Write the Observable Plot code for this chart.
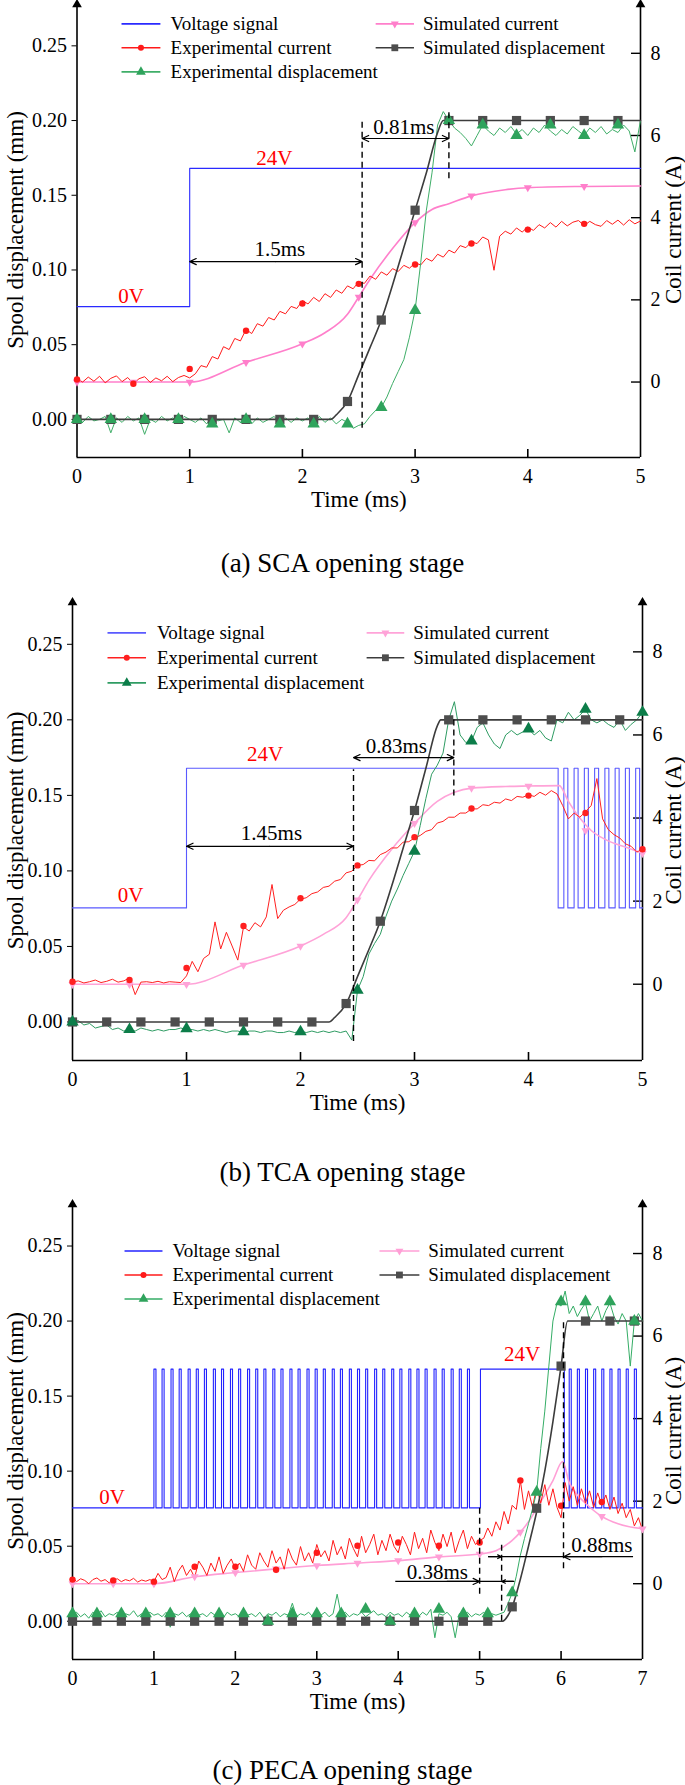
<!DOCTYPE html>
<html>
<head>
<meta charset="utf-8">
<script src="https://cdn.jsdelivr.net/npm/d3@7"></script>
<script src="https://cdn.jsdelivr.net/npm/@observablehq/plot@0.6"></script>
<style>
  body { margin: 0; background: #fff; font-family: "Liberation Serif", "Times New Roman", serif; }
  #page { position: relative; width: 685px; height: 1785px; overflow: hidden; }
  .fig { position: absolute; left: 0; }
  .cap { position: absolute; left: 0; width: 685px; text-align: center; font-size: 27px; line-height: 32px; height: 32px; color: #000; }
</style>
</head>
<body>
<div id="page">
  <div class="fig" id="figA" style="top:0px"></div>
  <div class="cap" style="top:547px">(a) SCA opening stage</div>
  <div class="fig" id="figB" style="top:585px"></div>
  <div class="cap" style="top:1156px">(b) TCA opening stage</div>
  <div class="fig" id="figC" style="top:1195px"></div>
  <div class="cap" style="top:1754px">(c) PECA opening stage</div>
</div>
<script>
// ---- (a) SCA ----------------------------------------------------------
// noisy traces sampled every 0.05 ms from t = 0
const aExpCur = [0.08,0.00,0.12,0.02,0.14,-0.02,0.09,0.15,0.01,0.11,-0.04,0.08,0.13,-0.01,0.10,0.03,0.14,0.01,0.11,0.16,0.10,
  0.20,0.40,0.36,0.62,0.56,0.86,0.79,1.06,1.00,1.28,1.18,1.42,1.36,1.57,1.51,1.72,1.66,1.84,1.79,1.98,
  1.90,2.06,1.96,2.15,2.06,2.24,2.16,2.34,2.27,2.44,2.40,2.58,2.50,2.68,2.60,2.76,2.69,2.84,2.77,2.90,
  2.85,3.01,2.94,3.11,3.04,3.21,3.14,3.32,3.27,3.41,3.37,3.53,3.46,2.72,3.55,3.67,3.60,3.75,3.65,3.77,
  3.69,3.83,3.75,3.88,3.77,3.91,3.80,3.89,3.93,3.81,3.91,3.83,3.79,3.93,3.84,3.94,3.82,3.95,3.85,3.92];
const aExpDisp = [0.001,-0.002,0.002,-0.001,0.000,0.002,-0.009,0.001,-0.002,0.002,-0.001,0.001,-0.010,0.000,-0.002,0.002,-0.001,0.001,-0.002,0.002,0.000,
  -0.002,0.001,-0.003,0.002,-0.001,0.000,-0.009,0.001,-0.002,0.002,-0.003,0.001,-0.002,0.000,0.002,-0.003,0.001,-0.002,0.001,-0.001,
  0.001,-0.003,0.002,-0.002,0.001,-0.003,0.000,-0.002,-0.006,-0.004,-0.003,0.002,0.006,0.008,0.015,0.024,0.032,0.040,0.055,0.073,
  0.105,0.140,0.165,0.197,0.206,0.200,0.195,0.192,0.188,0.183,0.190,0.197,0.193,0.190,0.195,0.192,0.196,0.191,0.194,0.190,
  0.195,0.192,0.197,0.193,0.190,0.194,0.191,0.196,0.193,0.190,0.195,0.192,0.196,0.191,0.194,0.192,0.197,0.193,0.179,0.200];
const aSimCurT = [0, 1.0, 1.5, 2.0, 2.2, 2.4, 2.5, 2.6, 2.8, 3.0, 3.15, 3.3, 3.5, 3.8, 4.0, 4.5, 5.0];
const aSimCurV = [0, 0, 0.48, 0.93, 1.2, 1.65, 2.07, 2.5, 3.25, 3.88, 4.2, 4.34, 4.53, 4.68, 4.73, 4.76, 4.77];
const aSimDispT = [0, 2.25, 2.3, 2.4, 2.5, 2.6, 2.7, 2.8, 2.9, 3.0, 3.1, 3.2, 3.25, 5.0];
const aSimDispV = [0, 0, 0.003, 0.012, 0.03, 0.048, 0.0665, 0.09, 0.115, 0.14, 0.165, 0.192, 0.2, 0.2];
const aVoltT = [0, 1.0, 5.0];
const aVoltV = [0, 24, 24];
const aPulses = [];
const aExpCurMarkT = [0, 0.5, 1.0, 1.5, 2.0, 2.5, 3.0, 3.5, 4.0, 4.5];
const aExpCurMarkV = [0.06, -0.04, 0.32, 1.25, 1.91, 2.39, 2.86, 3.37, 3.71, 3.85];
const aSimCurMarkT = [0, 0.5, 1.0, 1.5, 2.0, 2.5, 3.0, 3.5, 4.0, 4.5];
const aSimCurMarkV = [0, 0, 0, 0.48, 0.93, 2.07, 3.88, 4.53, 4.73, 4.76];
const aDispMarkT = [0, 0.3, 0.6, 0.9, 1.2, 1.5, 1.8, 2.1, 2.4, 2.7, 3.0, 3.3, 3.6, 3.9, 4.2, 4.5, 4.8];
const aSimDispMarkV = [0, 0, 0, 0, 0, 0, 0, 0, 0.012, 0.0665, 0.14, 0.2, 0.2, 0.2, 0.2, 0.2, 0.2];
const aExpDispMarkT = aDispMarkT;
const aExpDispMarkV = [0, 0, 0, 0, -0.003, 0, -0.003, -0.003, -0.003, 0.008, 0.073, 0.2, 0.197, 0.19, 0.197, 0.19, 0.197];

// ---- (b) TCA ----------------------------------------------------------
const bExpCur = [0.05,0.08,0.03,0.06,0.10,0.04,0.07,0.12,0.05,0.08,0.15,-0.25,0.05,0.06,0.04,0.07,0.03,0.06,0.05,0.04,0.20,
  0.55,0.30,0.62,0.72,1.50,0.85,1.25,0.92,0.58,1.38,1.28,1.48,1.38,1.62,2.40,1.58,1.78,1.86,1.92,2.05,
  2.08,2.18,2.22,2.33,2.36,2.48,2.52,2.68,2.72,2.86,2.88,2.98,2.97,3.12,3.18,3.28,3.28,3.42,3.43,3.52,
  3.58,3.68,3.72,3.88,3.92,4.02,4.02,4.12,4.12,4.22,4.22,4.32,4.30,4.38,4.36,4.46,4.42,4.52,4.50,4.56,
  4.52,4.62,4.55,4.66,4.58,4.30,3.98,4.12,4.02,4.15,4.30,4.95,3.98,3.72,3.60,3.52,3.38,3.32,3.18,3.25];
const bExpDisp = [0.000,0.001,-0.002,-0.001,-0.004,-0.003,-0.002,-0.005,-0.004,-0.006,-0.005,-0.006,-0.004,-0.005,-0.006,-0.005,-0.006,-0.005,-0.005,-0.004,-0.005,
  -0.005,-0.006,-0.005,-0.006,-0.005,-0.006,-0.007,-0.006,-0.006,-0.007,-0.006,-0.006,-0.007,-0.006,-0.006,-0.007,-0.007,-0.006,-0.007,-0.006,
  -0.007,-0.006,-0.007,-0.006,-0.007,-0.006,-0.007,-0.006,-0.012,0.021,0.030,0.045,0.052,0.058,0.070,0.080,0.088,0.097,0.105,0.113,
  0.130,0.148,0.164,0.170,0.178,0.200,0.212,0.190,0.185,0.186,0.195,0.198,0.190,0.184,0.181,0.190,0.193,0.190,0.192,0.194,
  0.190,0.193,0.188,0.186,0.200,0.198,0.205,0.200,0.203,0.207,0.200,0.198,0.200,0.197,0.195,0.200,0.193,0.197,0.200,0.205];
const bSimCurT = [0, 1.0, 1.5, 2.0, 2.2, 2.4, 2.5, 2.6, 2.8, 3.0, 3.2, 3.35, 3.5, 3.8, 4.0, 4.27, 4.35, 4.45, 4.55, 4.7, 4.85, 5.0];
const bSimCurV = [0, 0, 0.46, 0.92, 1.2, 1.6, 2.03, 2.5, 3.25, 3.87, 4.4, 4.62, 4.72, 4.76, 4.77, 4.78, 4.4, 4.0, 3.7, 3.45, 3.3, 3.15];
const bSimDispT = [0, 2.25, 2.3, 2.4, 2.5, 2.6, 2.7, 2.8, 2.9, 3.0, 3.1, 3.2, 3.23, 5.0];
const bSimDispV = [0, 0, 0.003, 0.012, 0.03, 0.048, 0.0667, 0.09, 0.115, 0.14, 0.168, 0.196, 0.2, 0.2];
const bVoltT = [0, 1.0, 4.26, 5.0];
const bVoltV = [0, 24, 0, 0];
const bPulses = [4.31, 4.40, 4.49, 4.58, 4.67, 4.76, 4.85, 4.94];
const bExpCurMarkT = [0, 0.5, 1.0, 1.5, 2.0, 2.5, 3.0, 3.5, 4.0, 4.5, 5.0];
const bExpCurMarkV = [0.06, 0.10, 0.39, 1.40, 2.07, 2.86, 3.54, 4.23, 4.54, 4.12, 3.25];
const bSimCurMarkT = [0, 0.5, 1.0, 1.5, 2.0, 2.5, 3.0, 3.5, 4.0, 4.5, 5.0];
const bSimCurMarkV = [0, 0, 0, 0.46, 0.92, 2.03, 3.87, 4.72, 4.77, 3.70, 3.15];
const bDispMarkT = [0, 0.3, 0.6, 0.9, 1.2, 1.5, 1.8, 2.1, 2.4, 2.7, 3.0, 3.3, 3.6, 3.9, 4.2, 4.5, 4.8];
const bSimDispMarkV = [0, 0, 0, 0, 0, 0, 0, 0, 0.0122, 0.0667, 0.14, 0.2, 0.2, 0.2, 0.2, 0.2, 0.2];
const bExpDispMarkT = [0, 0.5, 1.0, 1.5, 2.0, 2.5, 3.0, 3.5, 4.0, 4.5, 5.0];
const bExpDispMarkV = [0, -0.005, -0.0045, -0.0065, -0.0065, 0.021, 0.113, 0.186, 0.194, 0.207, 0.205];

// ---- (c) PECA ---------------------------------------------------------
const cExpCur = [0.15,0.05,0.12,0.08,0.00,0.10,0.14,0.06,0.10,0.02,0.08,0.12,0.05,0.10,0.07,0.13,0.04,0.09,0.06,0.10,0.05,
  0.25,0.10,0.15,0.40,0.05,0.30,0.45,0.20,0.35,0.15,0.55,0.40,0.20,0.50,0.30,0.65,0.25,0.45,0.60,0.35,
  0.50,0.30,0.70,0.45,0.35,0.75,0.55,0.40,0.80,0.50,0.65,0.35,0.85,0.60,0.45,0.90,0.55,0.75,0.50,0.95,
  0.65,0.80,0.55,1.05,0.70,0.90,0.60,1.10,0.85,0.65,1.15,0.75,0.95,1.20,0.70,1.05,0.80,1.20,0.90,0.75,
  1.15,0.95,0.70,1.25,0.85,1.10,0.75,1.30,1.00,0.80,1.20,0.90,1.25,0.75,1.05,1.30,0.85,1.15,0.95,1.05,
  1.10,1.35,1.15,1.50,1.30,1.75,1.45,1.90,1.80,2.50,1.80,2.25,1.85,2.35,1.95,2.40,1.90,2.30,1.85,1.60,
  2.45,2.00,2.35,1.90,2.30,1.95,2.25,1.85,2.20,1.90,2.15,1.80,2.10,1.70,1.95,1.60,1.80,1.40,1.60,1.30];
const cExpDisp = [0.004,0.006,0.003,0.005,0.002,0.006,0.004,0.007,0.003,0.005,0.004,0.006,0.002,0.005,0.004,0.007,0.003,0.005,0.004,0.006,0.004,
  0.005,0.003,0.006,-0.004,0.005,0.004,0.006,0.003,0.005,0.007,0.004,0.005,0.003,0.006,0.004,0.005,0.002,0.006,0.004,0.005,
  0.003,0.006,0.004,0.005,0.003,0.006,0.002,0.005,0.004,0.006,0.003,0.005,0.004,0.012,0.003,0.005,0.004,0.006,0.003,0.005,
  0.004,0.006,0.003,0.005,0.018,0.004,0.006,0.003,0.005,0.004,0.006,0.003,0.005,0.007,0.004,0.005,0.003,0.006,0.004,0.005,
  0.003,0.006,0.004,0.005,0.003,0.006,0.004,0.008,-0.011,0.005,0.004,0.006,0.003,-0.011,0.005,0.004,0.006,0.003,0.005,0.004,
  0.006,0.003,0.005,0.004,0.005,0.006,0.012,0.019,0.030,0.044,0.055,0.065,0.075,0.086,0.115,0.140,0.170,0.200,0.212,0.210,
  0.220,0.205,0.210,0.203,0.208,0.212,0.200,0.205,0.210,0.200,0.207,0.212,0.203,0.198,0.205,0.200,0.170,0.200,0.205,0.200];
const cSimCurT = [0, 1.0, 1.5, 2.0, 2.5, 3.0, 3.5, 4.0, 4.5, 5.0, 5.2, 5.4, 5.5, 5.6, 5.7, 5.8, 5.9, 6.02, 6.1, 6.2, 6.3, 6.5, 6.7, 7.0];
const cSimCurV = [0, 0, 0.17, 0.27, 0.36, 0.44, 0.5, 0.56, 0.65, 0.72, 0.8, 1.05, 1.25, 1.5, 1.82, 2.15, 2.5, 2.96, 2.45, 2.15, 1.95, 1.63, 1.45, 1.33];
const cSimDispT = [0, 5.28, 5.35, 5.4, 5.5, 5.6, 5.71, 5.8, 5.9, 6.0, 6.08, 7.0];
const cSimDispV = [0, 0, 0.004, 0.0096, 0.028, 0.05, 0.0753, 0.1, 0.133, 0.17, 0.2, 0.2];
const cVoltT = [0, 5.01, 6.04, 7.0];
const cVoltV = [0, 24, 0, 0];
const cPulses = [1.0, 1.1, 1.21, 1.31, 1.42, 1.52, 1.62, 1.73, 1.83, 1.94, 2.04, 2.15, 2.25, 2.35, 2.46, 2.56, 2.67, 2.77, 2.88,
  2.98, 3.08, 3.19, 3.29, 3.4, 3.5, 3.6, 3.71, 3.81, 3.92, 4.02, 4.13, 4.23, 4.33, 4.44, 4.54, 4.65, 4.75, 4.85,
  6.1, 6.2, 6.3, 6.4, 6.5, 6.6, 6.7, 6.8, 6.9];
const cExpCurMarkT = [0, 0.5, 1.0, 1.5, 2.0, 2.5, 3.0, 3.5, 4.0, 4.5, 5.0, 5.5, 6.0, 6.5];
const cExpCurMarkV = [0.10, 0.08, 0.05, 0.41, 0.41, 0.34, 0.75, 0.92, 1.00, 0.92, 1.00, 2.50, 1.89, 1.98];
const cSimCurMarkT = [0, 0.5, 1.0, 1.5, 2.0, 2.5, 3.0, 3.5, 4.0, 4.5, 5.0, 5.5, 6.5, 7.0];
const cSimCurMarkV = [0, 0, 0, 0.17, 0.27, 0.36, 0.44, 0.5, 0.56, 0.65, 0.72, 1.25, 1.63, 1.33];
const cDispMarkT = [0, 0.3, 0.6, 0.9, 1.2, 1.5, 1.8, 2.1, 2.4, 2.7, 3.0, 3.3, 3.6, 3.9, 4.2, 4.5, 4.8, 5.1, 5.4, 5.7, 6.0, 6.3, 6.6, 6.9];
const cSimDispMarkV = [0, 0, 0, 0, 0, 0, 0, 0, 0, 0, 0, 0, 0, 0, 0, 0, 0, 0, 0.0096, 0.0753, 0.17, 0.2, 0.2, 0.2];
const cExpDispMarkT = cDispMarkT;
const cExpDispMarkV = [0.005, 0.005, 0.005, 0.005, 0.005, 0.005, 0.005, 0.005, 0.0, 0.005, 0.005, 0.005, 0.008, 0.0, 0.005, 0.008, 0.005, 0.005,
  0.019, 0.086, 0.213, 0.213, 0.213, 0.2];

// axis ticks
const dispTicks = [0, 0.05, 0.10, 0.15, 0.20, 0.25];
const curTicks = [0, 2, 4, 6, 8];

// ---- scales shared by the panels -------------------------------------
const Y_DOMAIN = [-0.0255, 0.279];
const toCur = I => 0.025 + 0.0275 * I;        // coil current (A) on the displacement axis
const toVolt = V => 0.0755 + (0.0925 / 24) * V; // voltage signal drawn between 0V and 24V levels
const STEP = 0.05;
const FONT = '"Liberation Serif", "Times New Roman", serif';

const sampled = vals => vals.map((v, i) => ({t: +(i * STEP).toFixed(3), v}));
const zip = (ts, vs) => ts.map((t, i) => ({t, v: vs[i]}));

function voltage(ts, vs, pulses, width) {
  const pts = zip(ts, vs);
  pulses.forEach(t => { pts.push({t, v: 24}); pts.push({t: +(t + width).toFixed(3), v: 0}); });
  return pts.sort((a, b) => a.t - b.t);
}

const triDown = {
  draw(ctx, size) {
    const y = -Math.sqrt(size / (Math.sqrt(3) * 3));
    ctx.moveTo(0, -y * 2);
    ctx.lineTo(-Math.sqrt(3) * y, y);
    ctx.lineTo(Math.sqrt(3) * y, y);
    ctx.closePath();
  }
};

function drawPanel(p) {
  const L = p.layout, C = p.colors;
  const frameW = 685 - L.ml - L.mr, frameH = L.h - L.mt - L.mb;
  const xTicks = d3.range(0, p.xMax + 1);
  const lg = p.legend;
  const legendItems = [
    {label: "Voltage signal", col: 0, row: 0, stroke: C.volt, sym: null},
    {label: "Experimental current", col: 0, row: 1, stroke: C.red, sym: "circle", fill: C.red, r: 3.2},
    {label: "Experimental displacement", col: 0, row: 2, stroke: C.green, sym: "triangle", fill: C.greenMark, r: 4.6},
    {label: "Simulated current", col: 1, row: 0, stroke: C.pink, sym: triDown, fill: C.pink, r: 3},
    {label: "Simulated displacement", col: 1, row: 1, stroke: C.gray, sym: "square", fill: C.grayMark, r: 5.2}
  ].map(d => ({...d, x1: lg.cols[d.col][0], x2: lg.cols[d.col][1], tx: lg.cols[d.col][2], y: lg.rows[d.row]}));

  const arrowOpts = {x1: "x1", y1: "y", x2: "x2", y2: "y", stroke: "black", strokeWidth: 1.2, headLength: 9, headAngle: 50};

  return Plot.plot({
    width: 685,
    height: L.h,
    marginLeft: L.ml,
    marginRight: L.mr,
    marginTop: L.mt,
    marginBottom: L.mb,
    x: {domain: [0, p.xMax]},
    y: {domain: Y_DOMAIN},
    style: {fontFamily: FONT, fontSize: "20px", color: "black", background: "white", overflow: "visible"},
    marks: [
      // frame: bottom line, two vertical axes with arrow tips, inner ticks
      Plot.ruleY([Y_DOMAIN[0]], {stroke: "black", strokeWidth: 1.6}),
      Plot.ruleX([0, p.xMax], {y1: Y_DOMAIN[0], y2: Y_DOMAIN[1], stroke: "black", strokeWidth: 1.6}),
      Plot.dot([0, p.xMax], {x: d => d, y: Y_DOMAIN[1], symbol: "triangle", fill: "black", r: 3.6, dy: 2}),
      Plot.tickX(xTicks.slice(1, -1), {x: d => d, insetTop: frameH - 8, stroke: "black", strokeWidth: 1.6}),
      Plot.tickY(curTicks.map(toCur), {y: d => d, insetLeft: frameW - 9, stroke: "black", strokeWidth: 1.4}),
      Plot.axisX(xTicks, {tickSize: 0, tickPadding: 11, label: null, fontSize: 20, tickFormat: d3.format("d")}),
      Plot.axisY(dispTicks, {anchor: "left", tickSize: 5, tickPadding: 5, tickFormat: d3.format(".2f"), label: null, fontSize: 20}),
      Plot.axisY(curTicks.map(toCur), {anchor: "right", tickSize: 0, tickPadding: 10, label: null, fontSize: 20,
        tickFormat: d => String(Math.round((d - 0.025) / 0.0275))}),
      Plot.text(["Spool displacement (mm)"], {text: d => d, frameAnchor: "left", dx: 15 - L.ml, rotate: -90,
        textAnchor: "middle", lineAnchor: "middle", fontSize: 23}),
      Plot.text(["Coil current (A)"], {text: d => d, frameAnchor: "right", dx: 673 - (685 - L.mr), rotate: -90,
        textAnchor: "middle", lineAnchor: "middle", fontSize: 23}),
      Plot.text(["Time (ms)"], {text: d => d, frameAnchor: "bottom", dy: 42, lineAnchor: "middle", fontSize: 23}),

      // series
      Plot.line(voltage(p.voltT, p.voltV, p.pulses, p.pulseWidth), {x: "t", y: d => toVolt(d.v), curve: "step-after", stroke: C.volt, strokeWidth: 1.1}),
      Plot.line(zip(p.simCurT, p.simCurV), {x: "t", y: d => toCur(d.v), curve: "monotone-x", stroke: C.pink, strokeWidth: 1.6}),
      Plot.line(sampled(p.expCur), {x: "t", y: d => toCur(d.v), stroke: C.red, strokeWidth: 1}),
      Plot.line(sampled(p.expDisp), {x: "t", y: "v", stroke: C.green, strokeWidth: 1}),
      Plot.line(zip(p.simDispT, p.simDispV), {x: "t", y: "v", curve: "monotone-x", stroke: C.gray, strokeWidth: 1.6}),
      Plot.dot(zip(p.simCurMarkT, p.simCurMarkV), {x: "t", y: d => toCur(d.v), symbol: triDown, fill: C.pink, r: 3}),
      Plot.dot(zip(p.expCurMarkT, p.expCurMarkV), {x: "t", y: d => toCur(d.v), symbol: "circle", fill: C.red, r: 3.2}),
      Plot.dot(zip(p.dispMarkT, p.simDispMarkV), {x: "t", y: "v", symbol: "square", fill: C.grayMark, r: 5.2}),
      Plot.dot(zip(p.expDispMarkT, p.expDispMarkV), {x: "t", y: "v", symbol: "triangle", fill: C.greenMark, r: 4.6}),

      // timing annotations
      Plot.ruleX(p.dashes, {x: "t", y1: "y1", y2: "y2", stroke: "black", strokeWidth: 1.4, strokeDasharray: "6,4"}),
      Plot.ruleY(p.spans, {y: "y", x1: "x1", x2: "x2", stroke: "black", strokeWidth: 1.2}),
      Plot.arrow(p.heads, arrowOpts),
      Plot.text(p.notes, {x: "x", y: "y", text: "text", fill: "color", fontSize: 21}),

      // legend
      Plot.link(legendItems, {x1: "x1", x2: "x2", y1: "y", y2: "y", stroke: "stroke", strokeWidth: 1.6}),
      Plot.dot(legendItems.filter(d => d.sym), {x: d => (d.x1 + d.x2) / 2, y: "y", symbol: d => d.sym, fill: "fill", r: "r"}),
      Plot.text(legendItems, {x: "tx", y: "y", text: "label", textAnchor: "start", fontSize: 19})
    ]
  });
}

function heads(list) {
  // each entry: [from, to, y] arrow pointing at "to"
  return list.map(([x1, x2, y]) => ({x1, x2, y}));
}

const panels = [
  {
    el: "#figA", xMax: 5,
    layout: {h: 515, ml: 76.5, mr: 45, mt: 2, mb: 58},
    colors: {volt: "#2a2aff", red: "#ff1a1a", pink: "#ff7fcb", green: "#3fae68", greenMark: "#2fa35c", gray: "#3c3c3c", grayMark: "#4d4d4d"},
    expCur: aExpCur, expDisp: aExpDisp, simCurT: aSimCurT, simCurV: aSimCurV, simDispT: aSimDispT, simDispV: aSimDispV,
    voltT: aVoltT, voltV: aVoltV, pulses: aPulses, pulseWidth: 0.04,
    expCurMarkT: aExpCurMarkT, expCurMarkV: aExpCurMarkV, simCurMarkT: aSimCurMarkT, simCurMarkV: aSimCurMarkV,
    dispMarkT: aDispMarkT, simDispMarkV: aSimDispMarkV, expDispMarkT: aExpDispMarkT, expDispMarkV: aExpDispMarkV,
    legend: {cols: [[0.395, 0.74, 0.83], [2.65, 2.99, 3.07]], rows: [0.2647, 0.2487, 0.2326]},
    dashes: [{t: 2.53, y1: -0.006, y2: 0.2}, {t: 3.3, y1: 0.161, y2: 0.207}],
    spans: [],
    heads: heads([[1.76, 1.0, 0.1056], [1.76, 2.53, 0.1056], [2.9, 2.53, 0.188], [2.9, 3.3, 0.188]]),
    notes: [{x: 0.48, y: 0.0826, text: "0V", color: "#ff0000"}, {x: 1.75, y: 0.175, text: "24V", color: "#ff0000"},
      {x: 1.8, y: 0.1138, text: "1.5ms", color: "black"}, {x: 2.9, y: 0.1956, text: "0.81ms", color: "black"}]
  },
  {
    el: "#figB", xMax: 5,
    layout: {h: 535, ml: 72, mr: 43, mt: 15, mb: 60},
    colors: {volt: "#5a5aff", red: "#ff2020", pink: "#ffa3d8", green: "#2f9c63", greenMark: "#0c7d49", gray: "#3c3c3c", grayMark: "#4d4d4d"},
    expCur: bExpCur, expDisp: bExpDisp, simCurT: bSimCurT, simCurV: bSimCurV, simDispT: bSimDispT, simDispV: bSimDispV,
    voltT: bVoltT, voltV: bVoltV, pulses: bPulses, pulseWidth: 0.035,
    expCurMarkT: bExpCurMarkT, expCurMarkV: bExpCurMarkV, simCurMarkT: bSimCurMarkT, simCurMarkV: bSimCurMarkV,
    dispMarkT: bDispMarkT, simDispMarkV: bSimDispMarkV, expDispMarkT: bExpDispMarkT, expDispMarkV: bExpDispMarkV,
    legend: {cols: [[0.307, 0.645, 0.741], [2.58, 2.91, 2.99]], rows: [0.2576, 0.2411, 0.2245]},
    dashes: [{t: 2.465, y1: -0.013, y2: 0.167}, {t: 3.345, y1: 0.1496, y2: 0.2}],
    spans: [],
    heads: heads([[1.73, 1.0, 0.1163], [1.73, 2.465, 0.1163], [2.9, 2.465, 0.175], [2.9, 3.345, 0.175]]),
    notes: [{x: 0.51, y: 0.0837, text: "0V", color: "#ff0000"}, {x: 1.69, y: 0.1775, text: "24V", color: "#ff0000"},
      {x: 1.745, y: 0.1246, text: "1.45ms", color: "black"}, {x: 2.84, y: 0.1828, text: "0.83ms", color: "black"}]
  },
  {
    el: "#figC", xMax: 7,
    layout: {h: 525, ml: 72, mr: 43, mt: 7, mb: 61},
    colors: {volt: "#2323ff", red: "#ff1a1a", pink: "#ff9fd6", green: "#35ad66", greenMark: "#2fa35c", gray: "#3c3c3c", grayMark: "#4d4d4d"},
    expCur: cExpCur, expDisp: cExpDisp, simCurT: cSimCurT, simCurV: cSimCurV, simDispT: cSimDispT, simDispV: cSimDispV,
    voltT: cVoltT, voltV: cVoltV, pulses: cPulses, pulseWidth: 0.025,
    expCurMarkT: cExpCurMarkT, expCurMarkV: cExpCurMarkV, simCurMarkT: cSimCurMarkT, simCurMarkV: cSimCurMarkV,
    dispMarkT: cDispMarkT, simDispMarkV: cSimDispMarkV, expDispMarkT: cExpDispMarkT, expDispMarkV: cExpDispMarkV,
    legend: {cols: [[0.639, 1.105, 1.228], [3.77, 4.26, 4.37]], rows: [0.2467, 0.2307, 0.2147]},
    dashes: [{t: 5.0, y1: 0.018, y2: 0.076}, {t: 5.27, y1: 0.0, y2: 0.0525}, {t: 6.03, y1: 0.035, y2: 0.2}],
    spans: [{x1: 3.97, x2: 5.42, y: 0.0265}, {x1: 5.11, x2: 6.89, y: 0.043}],
    heads: heads([[4.6, 5.0, 0.0265], [5.42, 5.27, 0.0265], [5.11, 5.27, 0.043], [6.5, 6.03, 0.043]]),
    notes: [{x: 0.485, y: 0.0827, text: "0V", color: "#ff0000"}, {x: 5.52, y: 0.178, text: "24V", color: "#ff0000"},
      {x: 4.48, y: 0.0327, text: "0.38ms", color: "black"}, {x: 6.5, y: 0.0505, text: "0.88ms", color: "black"}]
  }
];

panels.forEach(p => {
  document.querySelector(p.el).append(drawPanel(p));
});
</script>
</body>
</html>
